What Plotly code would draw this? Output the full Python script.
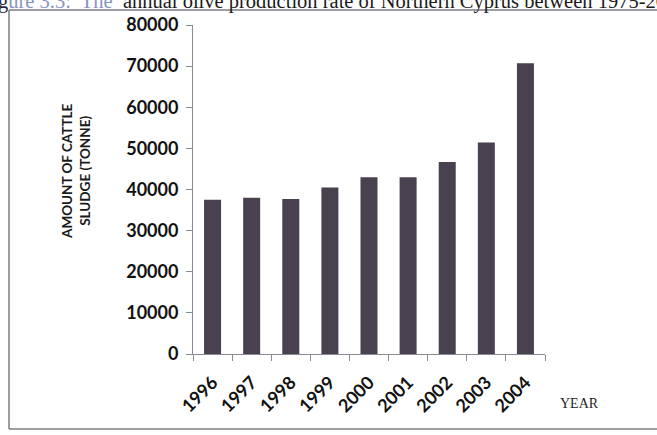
import plotly.graph_objects as go

# Annual amount of cattle sludge, Northern Cyprus
years = ["1996", "1997", "1998", "1999", "2000", "2001", "2002", "2003", "2004"]
sludge_tonne = [37500, 38000, 37700, 40500, 43000, 43000, 46700, 51400, 70700]
y_ticks = [0, 10000, 20000, 30000, 40000, 50000, 60000, 70000, 80000]

W, H = 657, 435
L, R, T, B = 193, 112, 25, 81
PW, PH = W - L - R, H - T - B


def px(x):
    """Horizontal pixel position -> paper coordinate."""
    return (x - L) / PW


def py(y):
    """Vertical pixel position (from top) -> paper coordinate."""
    return (H - B - y) / PH


fig = go.Figure(
    go.Bar(
        x=years,
        y=sludge_tonne,
        marker=dict(color="#4a4150", line=dict(width=0)),
    )
)

tick_font = dict(family="Lato, Open Sans, sans-serif", size=18, color="#111111", weight="bold")

fig.update_layout(
    width=W,
    height=H,
    margin=dict(l=L, r=R, t=T, b=B, pad=0),
    paper_bgcolor="white",
    plot_bgcolor="white",
    bargap=0.565,
    showlegend=False,
    xaxis=dict(
        type="category",
        tickangle=-45,
        tickson="boundaries",
        ticks="outside",
        ticklen=6,
        tickcolor="#8a8a96",
        showline=True,
        linecolor="#8a8a96",
        linewidth=1,
        showgrid=False,
        tickfont=tick_font,
        ticklabelstandoff=10,
        fixedrange=True,
    ),
    yaxis=dict(
        range=[0, 80000],
        tickvals=y_ticks,
        ticktext=[str(v) for v in y_ticks],
        ticks="outside",
        ticklen=6,
        tickcolor="#8a8a96",
        showline=True,
        linecolor="#8a8a96",
        linewidth=1,
        showgrid=False,
        zeroline=False,
        tickfont=tick_font,
        ticklabelstandoff=4,
        fixedrange=True,
    ),
)

# Y-axis caption (two lines, rotated)
fig.add_annotation(
    xref="paper", yref="paper",
    x=px(76), y=py(171),
    text="<b>AMOUNT OF CATTLE<br>SLUDGE (TONNE)</b>",
    textangle=-90,
    showarrow=False,
    font=dict(family="Lato, Open Sans, sans-serif", size=13.5, color="#1a1a1a"),
    xanchor="center", yanchor="middle",
)

# X-axis caption
fig.add_annotation(
    xref="paper", yref="paper",
    x=px(579), y=py(403),
    text="YEAR",
    showarrow=False,
    font=dict(family="Liberation Serif, Times New Roman, serif", size=14, color="#1e1e1e"),
    xanchor="center", yanchor="middle",
)

# Caption of the preceding figure, running along the top edge
fig.add_annotation(
    xref="paper", yref="paper",
    x=px(-4), y=py(15),
    text="<span style='color:#26283a'>g</span>"
         "<span style='color:#8a94c0'>ure 3.3:  The</span>  "
         "annual olive production rate of Northern Cyprus between 1975-2004",
    showarrow=False,
    font=dict(family="Liberation Serif, Times New Roman, serif", size=20.5, color="#1a1a1a"),
    xanchor="left", yanchor="bottom",
)

# Frame around the chart
frame_color = "#7c7c86"
fig.add_shape(type="line", xref="paper", yref="paper",
              x0=px(9), x1=px(680), y0=py(10), y1=py(10),
              line=dict(color=frame_color, width=1.5))
fig.add_shape(type="line", xref="paper", yref="paper",
              x0=px(9), x1=px(680), y0=py(429), y1=py(429),
              line=dict(color=frame_color, width=1.5))
fig.add_shape(type="line", xref="paper", yref="paper",
              x0=px(9), x1=px(9), y0=py(10), y1=py(429),
              line=dict(color=frame_color, width=1.5))

fig.write_html("out.html")
